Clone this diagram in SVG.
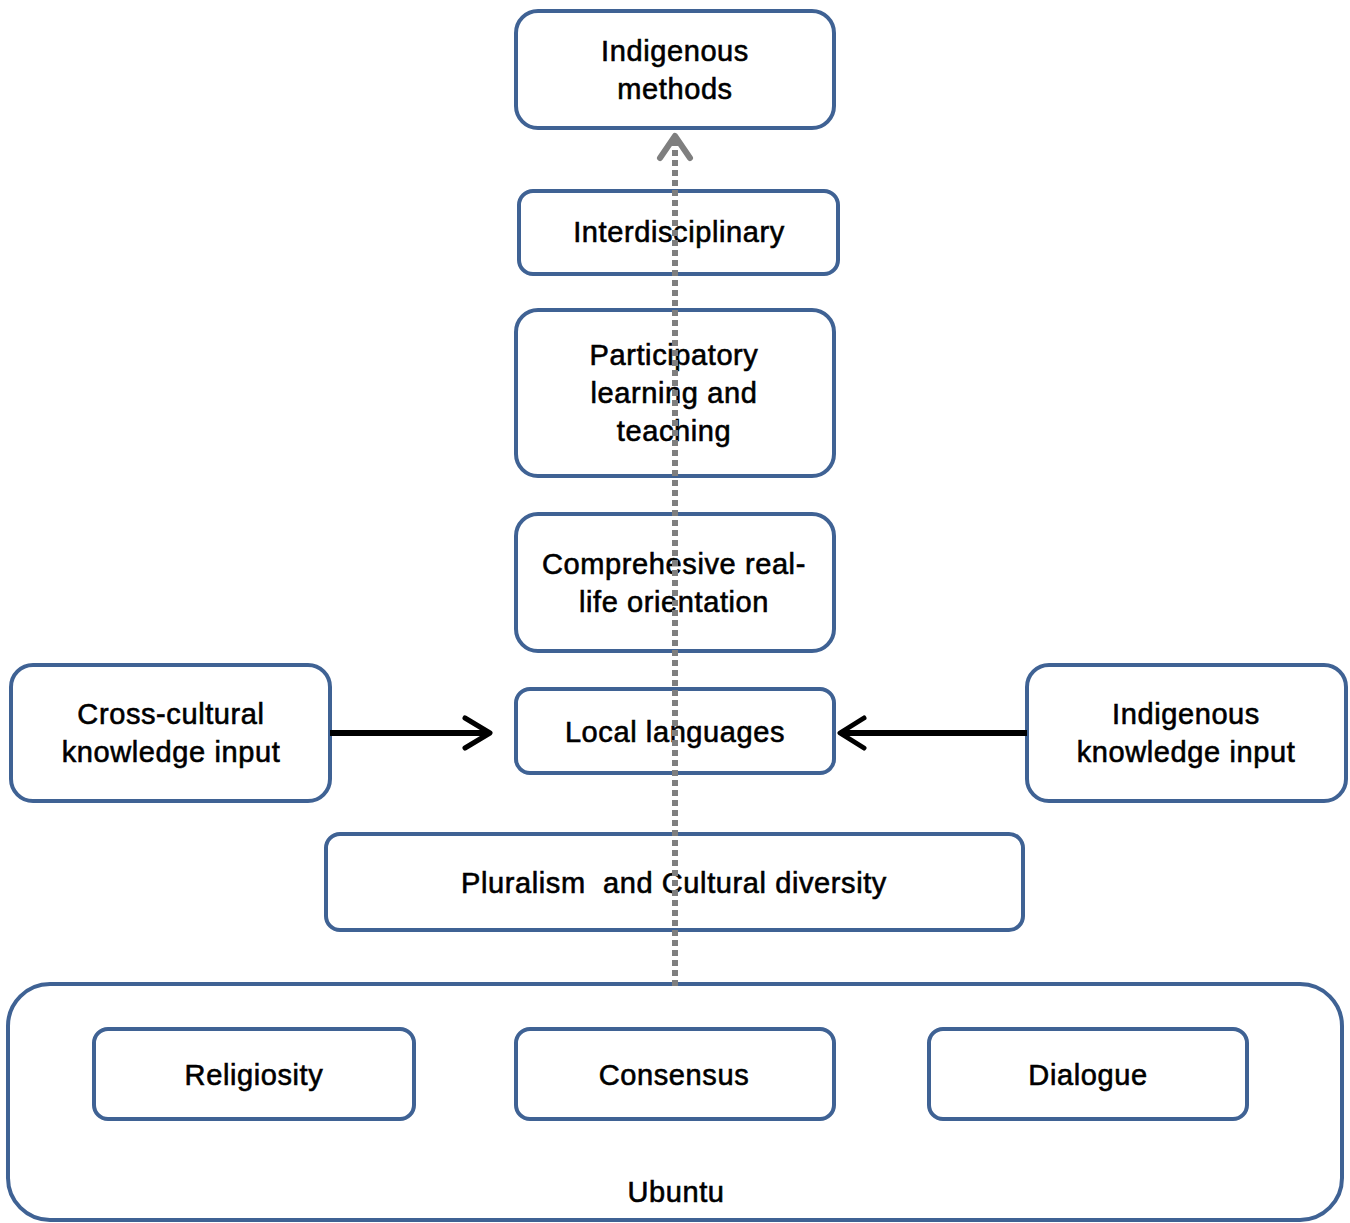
<svg xmlns="http://www.w3.org/2000/svg" width="1350" height="1223" viewBox="0 0 1350 1223">
  <style>
    .box { fill: #ffffff; stroke: #3f6294; stroke-width: 4; }
    .lbl { font-family: "Liberation Sans", Arial, sans-serif; font-size: 29px; letter-spacing: 0.6px; fill: #000000; stroke: #000000; stroke-width: 0.6; text-anchor: middle; white-space: pre; }
    .flow { fill: none; stroke: #7f7f7f; stroke-width: 6; stroke-dasharray: 6 4; }
    .head { fill: none; stroke: #7f7f7f; stroke-width: 6; stroke-linecap: round; stroke-linejoin: round; }
    .feed { fill: none; stroke: #000000; stroke-width: 6; }
    .chev { fill: none; stroke: #000000; stroke-width: 5; stroke-linecap: round; stroke-linejoin: round; }
  </style>

  <!-- Ubuntu foundation -->
  <g id="ubuntu">
    <rect class="box" x="8" y="984" width="1334" height="236" rx="42"/>
    <text class="lbl" x="676" y="1202">Ubuntu</text>
  </g>
  <g id="religiosity">
    <rect class="box" x="94" y="1029" width="320" height="90" rx="14"/>
    <text class="lbl" x="254" y="1085">Religiosity</text>
  </g>
  <g id="consensus">
    <rect class="box" x="516" y="1029" width="318" height="90" rx="14"/>
    <text class="lbl" x="674" y="1085">Consensus</text>
  </g>
  <g id="dialogue">
    <rect class="box" x="929" y="1029" width="318" height="90" rx="14"/>
    <text class="lbl" x="1088" y="1085">Dialogue</text>
  </g>

  <!-- Layers of the stack -->
  <g id="pluralism">
    <rect class="box" x="326" y="834" width="697" height="96" rx="14"/>
    <text class="lbl" x="674" y="893">Pluralism  and Cultural diversity</text>
  </g>
  <g id="local-languages">
    <rect class="box" x="516" y="689" width="318" height="84" rx="14"/>
    <text class="lbl" x="675" y="742">Local languages</text>
  </g>
  <g id="cross-cultural">
    <rect class="box" x="11" y="665" width="319" height="136" rx="22"/>
    <text class="lbl" x="171" y="724">Cross-cultural</text>
    <text class="lbl" x="171" y="762">knowledge input</text>
  </g>
  <g id="indigenous-knowledge">
    <rect class="box" x="1027" y="665" width="319" height="136" rx="22"/>
    <text class="lbl" x="1186" y="724">Indigenous</text>
    <text class="lbl" x="1186" y="762">knowledge input</text>
  </g>
  <g id="real-life">
    <rect class="box" x="516" y="514" width="318" height="137" rx="22"/>
    <text class="lbl" x="674" y="574">Comprehesive real-</text>
    <text class="lbl" x="674" y="612">life orientation</text>
  </g>
  <g id="participatory">
    <rect class="box" x="516" y="310" width="318" height="166" rx="22"/>
    <text class="lbl" x="674" y="365">Participatory</text>
    <text class="lbl" x="674" y="403">learning and</text>
    <text class="lbl" x="674" y="441">teaching</text>
  </g>
  <g id="interdisciplinary">
    <rect class="box" x="519" y="191" width="319" height="83" rx="14"/>
    <text class="lbl" x="679" y="242">Interdisciplinary</text>
  </g>
  <g id="indigenous-methods">
    <rect class="box" x="516" y="11" width="318" height="117" rx="22"/>
    <text class="lbl" x="675" y="61">Indigenous</text>
    <text class="lbl" x="675" y="99">methods</text>
  </g>

  <!-- Connectors -->
  <g id="connectors">
    <line class="flow" x1="675" y1="986" x2="675" y2="140"/>
    <polyline class="head" points="660,158 675,136 690,158"/>
    <line class="feed" x1="330" y1="733" x2="490" y2="733"/>
    <polyline class="chev" points="465,718 490,733 465,748"/>
    <line class="feed" x1="1027" y1="733" x2="840" y2="733"/>
    <polyline class="chev" points="864,718 840,733 864,748"/>
  </g>
</svg>
